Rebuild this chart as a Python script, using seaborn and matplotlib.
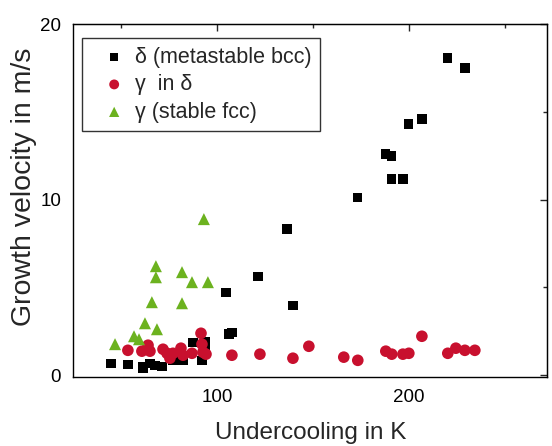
import matplotlib
matplotlib.use("Agg")
import matplotlib.pyplot as plt
import seaborn as sns
import pandas as pd
from matplotlib.ticker import MultipleLocator

# delta (metastable bcc)
delta_x = [44.8, 53.6, 61.5, 61.5, 65.1, 67.7, 71.4, 77.1, 82.3, 87.5, 93.75, 92.2, 93.75,
           104.7, 106.25, 107.8, 121.4, 136.5, 139.6, 173.4, 188.0, 191.1, 191.1, 196.9,
           200.0, 206.8, 220.3, 229.2]
delta_y = [0.68, 0.63, 0.51, 0.40, 0.68, 0.57, 0.51, 0.85, 0.85, 1.88, 1.94, 0.85, 1.60,
           4.73, 2.34, 2.45, 5.64, 8.32, 3.99, 10.14, 12.59, 12.48, 11.17, 11.17,
           14.30, 14.59, 18.06, 17.49]

# gamma in delta
gind_x = [53.6, 60.9, 64.1, 65.1, 71.9, 74.0, 75.5, 77.1, 81.25, 82.3, 87.0, 91.7, 92.2,
          92.7, 94.3, 107.8, 122.4, 139.6, 147.9, 166.1, 173.4, 188.0, 191.1, 196.9,
          200.0, 206.8, 220.3, 224.5, 229.2, 234.4]
gind_y = [1.42, 1.37, 1.71, 1.37, 1.48, 1.25, 0.97, 1.25, 1.54, 1.14, 1.25, 2.39, 1.77,
          1.31, 1.20, 1.14, 1.20, 0.97, 1.65, 1.03, 0.85, 1.37, 1.20, 1.20,
          1.25, 2.22, 1.25, 1.54, 1.42, 1.42]

# gamma (stable fcc)
fcc_x = [93.2, 68.2, 68.2, 81.8, 87.0, 95.3, 66.1, 81.8, 62.5, 68.75, 56.8, 59.4, 46.9]
fcc_y = [8.89, 6.21, 5.58, 5.87, 5.30, 5.30, 4.16, 4.10, 2.96, 2.62, 2.22, 2.05, 1.77]

labels = ["δ (metastable bcc)", "γ  in δ", "γ (stable fcc)"]
colors = ["#000000", "#c8102e", "#6cb21f"]

df_delta = pd.DataFrame({"x": delta_x, "y": delta_y})
df_gind = pd.DataFrame({"x": gind_x, "y": gind_y})
df_fcc = pd.DataFrame({"x": fcc_x, "y": fcc_y})

sns.set_style("white")
plt.rcParams["font.family"] = ["Liberation Sans", "DejaVu Sans"]

fig = plt.figure(figsize=(5.52, 4.46), dpi=100)
ax = fig.add_axes([73 / 552, 1 - 377 / 446, (547 - 73) / 552, (377 - 24) / 446])

sns.scatterplot(data=df_delta, x="x", y="y", marker="s", s=45, color=colors[0],
                edgecolor="none", ax=ax, label=labels[0], zorder=3)
sns.scatterplot(data=df_gind, x="x", y="y", marker="o", s=70, color=colors[1],
                edgecolor="none", ax=ax, label=labels[1], zorder=4)
sns.scatterplot(data=df_fcc, x="x", y="y", marker="^", s=75, color=colors[2],
                edgecolor="none", ax=ax, label=labels[2], zorder=5)

ax.set_xlim(25, 272)
ax.set_ylim(-0.1, 20)
ax.xaxis.set_major_locator(MultipleLocator(100))
ax.xaxis.set_minor_locator(MultipleLocator(50))
ax.yaxis.set_major_locator(MultipleLocator(10))
ax.yaxis.set_minor_locator(MultipleLocator(5))

for sp in ax.spines.values():
    sp.set_visible(True)
    sp.set_color("black")
    sp.set_linewidth(1.0)

ax.tick_params(axis="both", which="both", direction="out", top=False, right=False,
               labelsize=13.5, colors="black", width=1.0)
ax.tick_params(which="major", length=5)
ax.tick_params(which="minor", length=3)

ax2 = ax.secondary_xaxis("top")
ax2.xaxis.set_major_locator(MultipleLocator(100))
ax2.xaxis.set_minor_locator(MultipleLocator(50))
ax2.tick_params(which="both", direction="in", labeltop=False, width=1.0)
ax2.tick_params(which="major", length=5)
ax2.tick_params(which="minor", length=3)
ax3 = ax.secondary_yaxis("right")
ax3.yaxis.set_major_locator(MultipleLocator(10))
ax3.yaxis.set_minor_locator(MultipleLocator(5))
ax3.tick_params(which="both", direction="in", labelright=False, width=1.0)
ax3.tick_params(which="major", length=5)
ax3.tick_params(which="minor", length=3)

ax.set_xlabel("Undercooling in K", fontsize=17.5)
ax.xaxis.set_label_coords(0.502, -0.128)
ax.set_ylabel("Growth velocity in m/s", fontsize=20.5, va="center")
ax.yaxis.set_label_coords(-0.103, 0.54)

leg = ax.legend(loc="upper left", bbox_to_anchor=(9 / 474, (377 - 38) / 353), frameon=True,
                fontsize=15.5, handletextpad=-0.15, borderpad=0.4, labelspacing=0.3,
                fancybox=False, borderaxespad=0.0, handlelength=2.19, markerscale=0.85)
leg.get_frame().set_edgecolor("black")
leg.get_frame().set_linewidth(1.0)

fig.savefig("out.png", dpi=100)
